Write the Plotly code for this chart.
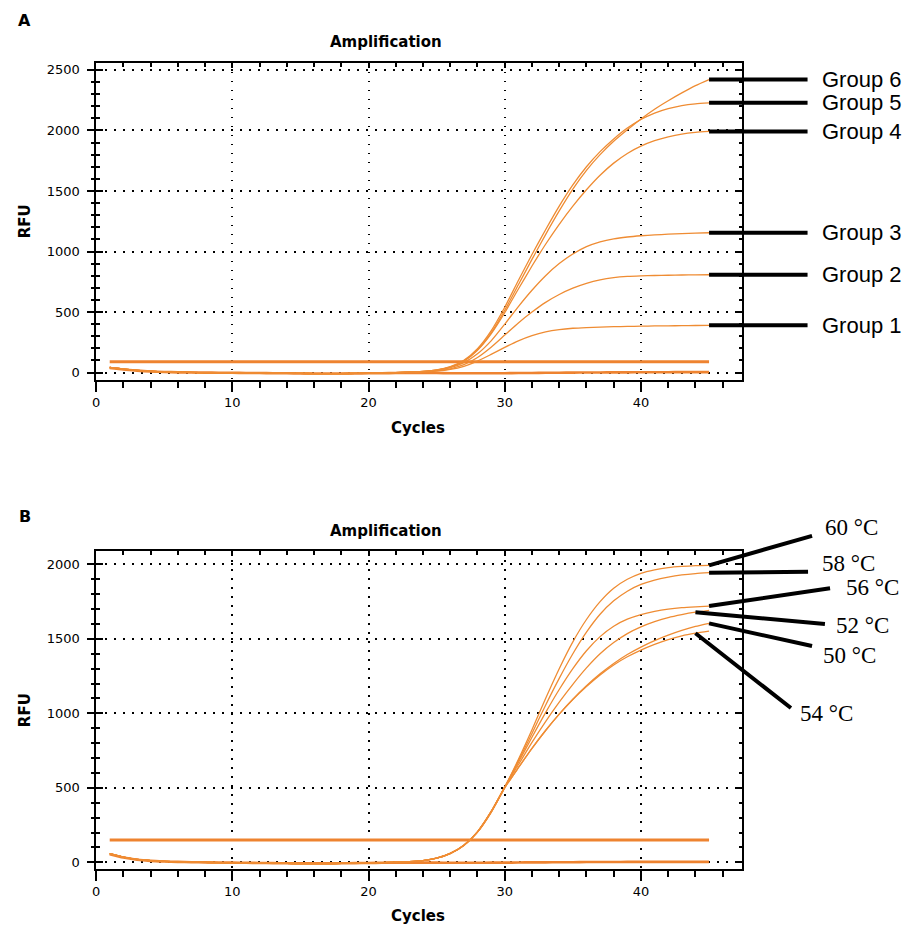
import plotly.graph_objects as go

# ---------------- data ----------------
cycles = list(range(1, 46))
late_cycles = list(range(24, 46))

# Panel A: shared early baseline (cycles 1-23)
a_early = [42, 28, 18, 11, 6, 3, 1, 0, -1, -2, -3, -4, -5, -6, -7, -8, -8, -8, -7, -6, -4, -1, 3]
# Panel A groups (cycles 24-45)
group1 = [5, 12, 26, 52, 95, 150, 208, 262, 305, 336, 355, 366, 372, 376, 379, 381, 383, 385, 386, 388, 389, 390]
group2 = [6, 14, 31, 65, 125, 210, 310, 410, 500, 580, 645, 697, 737, 766, 784, 794, 799, 802, 804, 806, 807, 808]
group3 = [8, 18, 40, 82, 155, 262, 400, 545, 680, 800, 900, 980, 1040, 1080, 1105, 1120, 1130, 1137, 1143, 1148, 1152, 1155]
group4 = [10, 21, 46, 95, 185, 320, 495, 690, 880, 1060, 1225, 1375, 1510, 1630, 1730, 1810, 1870, 1915, 1947, 1970, 1984, 1992]
group5 = [10, 22, 49, 102, 198, 345, 540, 760, 975, 1180, 1375, 1550, 1700, 1825, 1930, 2020, 2090, 2143, 2180, 2205, 2220, 2228]
group6 = [10, 21, 46, 96, 188, 328, 515, 725, 935, 1140, 1335, 1515, 1670, 1800, 1910, 2005, 2095, 2175, 2245, 2310, 2370, 2420]
ntc_a = [38, 25, 16, 9, 5, 2, 1, 0, -1, -2, -3, -4, -5, -6, -7, -8, -8, -8, -7, -6, -5, -4, -3,
         -3, -4, -5, -6, -6, -6, -5, -4, -3, -2, -1, 0, 1, 1, 2, 2, 3, 3, 3, 4, 4, 4]
threshold_a = 90
group_names = ["Group 1", "Group 2", "Group 3", "Group 4", "Group 5", "Group 6"]

# Panel B
b_early = [58, 35, 20, 12, 7, 4, 2, 0, -2, -3, -4, -5, -6, -7, -8, -8, -8, -7, -6, -4, -2, 1, 5]
t60 = [12, 28, 60, 115, 205, 340, 505, 690, 890, 1100, 1300, 1480, 1630, 1750, 1840, 1900, 1940, 1963, 1978, 1986, 1991, 1993]
t58 = [12, 28, 60, 115, 205, 340, 505, 680, 865, 1055, 1235, 1400, 1545, 1665, 1755, 1820, 1865, 1895, 1915, 1929, 1938, 1944]
t56 = [12, 28, 60, 115, 205, 340, 505, 670, 840, 1005, 1160, 1300, 1420, 1515, 1585, 1632, 1663, 1684, 1699, 1709, 1715, 1720]
t52 = [12, 28, 60, 115, 205, 340, 505, 655, 805, 945, 1075, 1195, 1305, 1400, 1475, 1535, 1580, 1615, 1643, 1663, 1679, 1691]
t50 = [12, 28, 59, 113, 203, 336, 500, 635, 765, 885, 995, 1095, 1185, 1265, 1335, 1395, 1445, 1488, 1525, 1557, 1583, 1604]
t54 = [12, 28, 59, 113, 203, 336, 500, 635, 765, 885, 995, 1093, 1180, 1258, 1325, 1380, 1425, 1463, 1495, 1520, 1538, 1552]
ntc_b = [55, 32, 18, 10, 6, 3, 1, 0, -1, -2, -3, -4, -5, -6, -7, -7, -7, -6, -5, -4, -3, -3, -2,
         -2, -2, -3, -3, -3, -2, -2, -1, 0, 0, 1, 1, 2, 2, 2, 3, 3, 3, 3, 3, 3, 3]
threshold_b = 150
temp_names = ["60 °C", "58 °C", "56 °C", "52 °C", "50 °C", "54 °C"]

x_tick_labels = ["0", "10", "20", "30", "40"]

# ---------------- layout geometry (px -> paper) ----------------
W, H = 911, 926
def fx(p):
    return p / W
def fy(p):
    return 1 - p / H

XDOM = [fx(92.5), fx(741)]
A_DOM = [fy(380.5), fy(62.7)]
B_DOM = [fy(870), fy(551.7)]
X_RANGE = [0, 47.4]
A_RANGE = [-62, 2560]
B_RANGE = [-45, 2089]

ORANGE = "#EF8C33"
ORANGE_THICK = "#EE8330"
TICKFONT = dict(family="DejaVu Sans", size=13, color="black")
BOLD = "DejaVu Sans"

fig = go.Figure()

def add_panel(xa, ya, early, series, ntc, thr):
    fig.add_trace(go.Scatter(x=cycles, y=ntc, mode="lines", xaxis=xa, yaxis=ya,
                             line=dict(color=ORANGE_THICK, width=2.6, shape="spline", smoothing=0.6),
                             hoverinfo="skip", showlegend=False))
    fig.add_trace(go.Scatter(x=cycles, y=[thr] * len(cycles), mode="lines", xaxis=xa, yaxis=ya,
                             line=dict(color=ORANGE_THICK, width=3),
                             hoverinfo="skip", showlegend=False))
    for s in series:
        fig.add_trace(go.Scatter(x=cycles, y=early + s, mode="lines", xaxis=xa, yaxis=ya,
                                 line=dict(color=ORANGE, width=1.3, shape="spline", smoothing=0.6),
                                 hoverinfo="skip", showlegend=False))

add_panel("x", "y", a_early, [group1, group2, group3, group4, group5, group6], ntc_a, threshold_a)
add_panel("x4", "y4", b_early, [t60, t58, t56, t52, t50, t54], ntc_b, threshold_b)

# dummy traces so overlay axes get drawn
for xa, ya in [("x2", "y2"), ("x", "y3"), ("x5", "y5"), ("x4", "y6")]:
    fig.add_trace(go.Scatter(x=[None], y=[None], xaxis=xa, yaxis=ya, mode="lines",
                             hoverinfo="skip", showlegend=False))

def main_x(anchor):
    return dict(domain=XDOM, range=X_RANGE, anchor=anchor, showline=True, linecolor="black",
                linewidth=1.5, mirror=True, ticks="outside", ticklen=10, tickwidth=1.5,
                tickcolor="black", tickmode="array", tickvals=[int(t) for t in x_tick_labels],
                ticktext=x_tick_labels,
                minor=dict(dtick=2, tick0=0, ticks="outside", ticklen=6, tickwidth=1.5,
                           tickcolor="black", showgrid=False),
                showgrid=True, gridcolor="black", gridwidth=1.5, griddash="1.5px,7.5px",
                zeroline=False, tickfont=TICKFONT, fixedrange=True)

def top_x(over, anchor):
    return dict(overlaying=over, side="top", anchor=anchor, range=X_RANGE, showline=False,
                ticks="inside", ticklen=5, tickwidth=1.5, tickcolor="black", dtick=10, tick0=0,
                minor=dict(dtick=2, tick0=0, ticks="inside", ticklen=4, tickwidth=1.5,
                           tickcolor="black", showgrid=False),
                showticklabels=False, showgrid=False, zeroline=False, fixedrange=True)

def main_y(dom, rng, anchor):
    return dict(domain=dom, range=rng, anchor=anchor, showline=True, linecolor="black",
                linewidth=1.5, mirror=True, ticks="outside", ticklen=7, tickwidth=1.5,
                tickcolor="black", tickmode="linear", tick0=0, dtick=500,
                minor=dict(dtick=100, tick0=0, ticks="outside", ticklen=3.5, tickwidth=1.5,
                           tickcolor="black", showgrid=False),
                showgrid=True, gridcolor="black", gridwidth=1.5, griddash="1.5px,7.5px",
                zeroline=False, tickfont=TICKFONT, ticklabelstandoff=5, fixedrange=True)

def over_y(over, rng, anchor, side, length):
    return dict(overlaying=over, side=side, anchor=anchor, range=rng, showline=False,
                ticks="inside", ticklen=length, tickwidth=1.5, tickcolor="black",
                tickmode="linear", tick0=0, dtick=500,
                minor=dict(dtick=100, tick0=0, ticks="inside", ticklen=length / 2,
                           tickwidth=1.5, tickcolor="black", showgrid=False),
                showticklabels=False, showgrid=False, zeroline=False, fixedrange=True)

fig.update_layout(
    width=W, height=H, autosize=False,
    margin=dict(l=0, r=0, t=0, b=0),
    paper_bgcolor="white", plot_bgcolor="white",
    showlegend=False,
    xaxis=main_x("y"),
    yaxis=main_y(A_DOM, A_RANGE, "x"),
    xaxis2=top_x("x", "y"),
    yaxis2=over_y("y", A_RANGE, "x", "right", 6),
    yaxis3=over_y("y", A_RANGE, "x", "left", 7),
    xaxis4=main_x("y4"),
    yaxis4=main_y(B_DOM, B_RANGE, "x4"),
    xaxis5=top_x("x4", "y4"),
    yaxis5=over_y("y4", B_RANGE, "x4", "right", 6),
    yaxis6=over_y("y4", B_RANGE, "x4", "left", 7),
)

ann = []
def text_ann(x, y, text, size, family, bold=False, angle=0, xanchor="center", yanchor="middle"):
    ann.append(dict(x=x, y=y, xref="paper", yref="paper", text=("<b>%s</b>" % text) if bold else text,
                    showarrow=False, xanchor=xanchor, yanchor=yanchor, textangle=angle,
                    font=dict(family=family, size=size, color="black")))

# panel letters, titles, axis titles
text_ann(fx(21), fy(21), "A", 16, BOLD, bold=True)
text_ann(fx(21), fy(517.5), "B", 16, BOLD, bold=True)
text_ann(fx(384), fy(42.5), "Amplification", 15, BOLD, bold=True)
text_ann(fx(384), fy(531.5), "Amplification", 15, BOLD, bold=True)
text_ann(fx(416), fy(428), "Cycles", 15, BOLD, bold=True)
text_ann(fx(416), fy(917), "Cycles", 15, BOLD, bold=True)
text_ann(fx(21), fy(221.6), "RFU", 15, BOLD, bold=True, angle=-90)
text_ann(fx(21), fy(711), "RFU", 15, BOLD, bold=True, angle=-90)

# Panel A group labels + leader lines
a_series = [group1, group2, group3, group4, group5, group6]
for name, s in zip(group_names, a_series):
    end_val = s[-1]
    ann.append(dict(x=cycles[-1], y=end_val, xref="x", yref="y", text="", showarrow=True,
                    arrowhead=0, arrowwidth=4, arrowcolor="black", ax=100, ay=0))
    ann.append(dict(x=fx(820), y=end_val, xref="paper", yref="y", text=name, showarrow=False,
                    xanchor="left", yanchor="middle",
                    font=dict(family="Liberation Sans, Arial", size=22, color="black")))

# Panel B temperature labels: (series, head cycle, tail dx, tail dy, text left px, text center px)
b_labels = [
    (t60, 45, 104.5, -30, 823, 528),
    (t58, 45, 100.5, -1, 820, 564),
    (t56, 45, 122.5, -18, 844, 588),
    (t52, 44, 131, 12, 834, 626),
    (t50, 45, 104.5, 23, 821, 656),
    (t54, 44, 97, 76, 797, 714),
]
for name, (s, hc, dx, dy, tx, ty) in zip(temp_names, b_labels):
    hv = s[late_cycles.index(hc)]
    ann.append(dict(x=hc, y=hv, xref="x4", yref="y4", text="", showarrow=True,
                    arrowhead=0, arrowwidth=4, arrowcolor="black", ax=dx, ay=dy))
    ann.append(dict(x=fx(tx), y=fy(ty), xref="paper", yref="paper", text=name, showarrow=False,
                    xanchor="left", yanchor="middle",
                    font=dict(family="Liberation Serif, Times New Roman", size=23, color="black")))

fig.update_layout(annotations=ann)
fig.write_html("out.html")
